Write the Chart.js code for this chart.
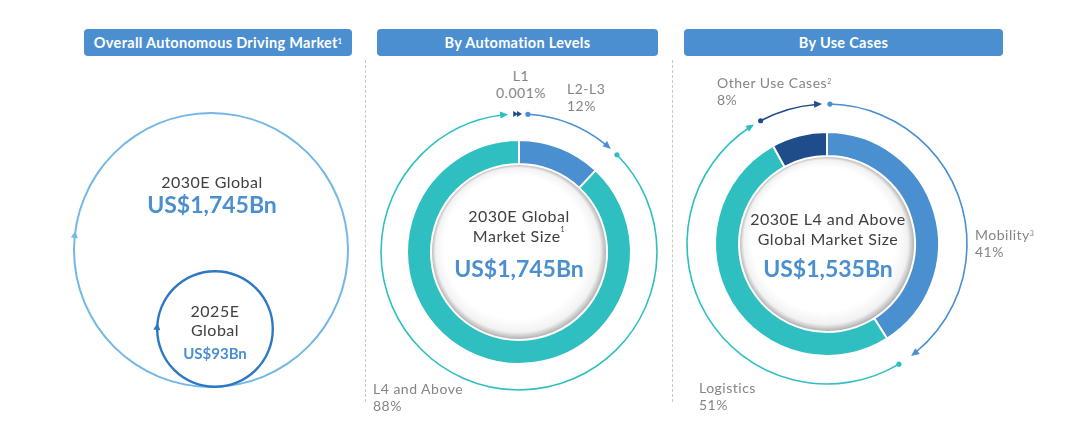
<!DOCTYPE html>
<html>
<head>
<meta charset="utf-8">
<script src="https://cdn.jsdelivr.net/npm/chart.js@4.4.0/dist/chart.umd.min.js"></script>
<style>
  body { margin: 0; width: 1080px; height: 434px; background: #fff; position: relative; overflow: hidden; font-family: Lato, 'Noto Sans', sans-serif; }
  .bar { position: absolute; top: 29px; height: 27px; line-height: 27px; background: #4b8fd1; border-radius: 4px; color: #fff; font-weight: bold; font-size: 14.5px; letter-spacing: 0.3px; text-align: center; }
  .sep { position: absolute; top: 60px; height: 342px; border-left: 1px dashed #c8c8c8; }
  .c { position: absolute; transform: translate(-50%, -50%); white-space: nowrap; text-align: center; }
  .l { position: absolute; transform: translateY(-50%); white-space: nowrap; }
  .lbl { font-size: 14px; letter-spacing: 0.5px; color: #858585; line-height: 17px; }
  .dark { font-size: 16px; letter-spacing: 0.5px; color: #404040; }
  .val { font-weight: bold; color: #4a8fd0; }
  sup { font-size: 7px; vertical-align: top; position: relative; top: -1px; }
  canvas { position: absolute; }
</style>
</head>
<body>
<div class="bar" style="left:84px;width:268px">Overall Autonomous Driving Market<sup>1</sup></div>
<div class="bar" style="left:377px;width:281px">By Automation Levels</div>
<div class="bar" style="left:684px;width:319px">By Use Cases</div>
<div class="sep" style="left:365px"></div>
<div class="sep" style="left:672px"></div>

<canvas id="big" width="290" height="290" style="left:66px;top:105px"></canvas>
<canvas id="small" width="130" height="130" style="left:150px;top:264px"></canvas>
<canvas id="levels" width="300" height="300" style="left:369px;top:102px"></canvas>
<canvas id="uses" width="300" height="300" style="left:677px;top:94px"></canvas>

<div class="c dark" style="left:212px;top:181px">2030E Global</div>
<div class="c val" style="left:212px;top:204px;font-size:23px">US$1,745Bn</div>
<div class="c dark" style="left:215px;top:310px">2025E</div>
<div class="c dark" style="left:215px;top:329px">Global</div>
<div class="c val" style="left:215px;top:353px;font-size:15px">US$93Bn</div>

<div class="c dark" style="left:519px;top:215px">2030E Global</div>
<div class="c dark" style="left:519px;top:235px">Market Size<sup>1</sup></div>
<div class="c val" style="left:519px;top:268px;font-size:23px">US$1,745Bn</div>

<div class="c dark" style="left:828px;top:218px">2030E L4 and Above</div>
<div class="c dark" style="left:828px;top:238px">Global Market Size</div>
<div class="c val" style="left:828px;top:268px;font-size:23px">US$1,535Bn</div>

<div class="c lbl" style="left:521px;top:84px">L1<br>0.001%</div>
<div class="l lbl" style="left:567px;top:97px">L2-L3<br>12%</div>
<div class="l lbl" style="left:373px;top:397px">L4 and Above<br>88%</div>

<div class="l lbl" style="left:717px;top:91px">Other Use Cases<sup>2</sup><br>8%</div>
<div class="l lbl" style="left:975px;top:243px">Mobility<sup>3</sup><br>41%</div>
<div class="l lbl" style="left:699px;top:396px">Logistics<br>51%</div>

<script>
const marketYears = ['2030E', '2025E'];
const marketSizes = [1745, 93];

const levelLabels = ['L1', 'L2-L3', 'L4 and Above'];
const levelShares = [0.001, 12, 88];

const useCaseLabels = ['Mobility', 'Logistics', 'Other Use Cases'];
const useCaseShares = [41, 51, 8];

const TEAL = '#30bfc0';
const BLUE = '#4a8fd0';
const NAVY = '#1f4c8a';

const rad = d => d * Math.PI / 180;

function drawHead(ctx, cx, cy, r, a, len, w) {
  const tx = cx + r * Math.cos(a), ty = cy + r * Math.sin(a);
  const dx = -Math.sin(a), dy = Math.cos(a);   // clockwise tangent
  const nx = Math.cos(a), ny = Math.sin(a);
  const bx = tx - len * dx, by = ty - len * dy;
  ctx.beginPath();
  ctx.moveTo(tx, ty);
  ctx.lineTo(bx + w * nx, by + w * ny);
  ctx.lineTo(bx - w * nx, by - w * ny);
  ctx.closePath();
  ctx.fill();
}

// thin outer ring with dots and arrowheads, taken from the arc elements
const ringArrows = {
  id: 'ringArrows',
  afterDatasetsDraw(chart) {
    const ctx = chart.ctx;
    chart.data.datasets.forEach((ds, di) => {
      const arcs = chart.getDatasetMeta(di).data;
      if (ds.headAt !== undefined) {
        const a = arcs[0];
        const r = (a.innerRadius + a.outerRadius) / 2;
        ctx.save();
        ctx.fillStyle = ds.backgroundColor;
        drawHead(ctx, a.x, a.y, r, rad(ds.headAt - 90), 7, 3.5);
        ctx.restore();
      }
      if (!ds.arrowColors) return;
      arcs.forEach((arc, i) => {
        const { x, y, startAngle, endAngle, innerRadius, outerRadius } = arc;
        const r = (innerRadius + outerRadius) / 2;
        const col = ds.arrowColors[i];
        ctx.save();
        ctx.strokeStyle = col;
        ctx.fillStyle = col;
        ctx.lineWidth = 1.6;
        if (endAngle - startAngle < 0.01) {
          drawHead(ctx, x, y, r, startAngle - 0.006, 5, 3);
          drawHead(ctx, x, y, r, startAngle + 0.022, 5, 3);
        } else {
          const a0 = startAngle + rad(ds.gapStart[i]);
          const a1 = endAngle - rad(ds.gapEnd[i]);
          ctx.beginPath();
          ctx.arc(x, y, r, a0, a1 - 6 / r);
          ctx.stroke();
          ctx.beginPath();
          ctx.arc(x + r * Math.cos(a0), y + r * Math.sin(a0), 2.6, 0, Math.PI * 2);
          ctx.fill();
          drawHead(ctx, x, y, r, a1, 8, 3.5);
        }
        ctx.restore();
      });
    });
  }
};

// soft shadow inside the thick ring
const innerShadow = {
  id: 'innerShadow',
  beforeDatasetsDraw(chart) {
    const di = chart.data.datasets.findIndex(d => d.shadow);
    if (di < 0) return;
    const arc = chart.getDatasetMeta(di).data[0];
    const { x, y, innerRadius } = arc;
    const ctx = chart.ctx;
    const g = ctx.createRadialGradient(x - 3, y - 5, innerRadius - 16, x, y, innerRadius + 1);
    g.addColorStop(0, 'rgba(0,0,0,0)');
    g.addColorStop(0.6, 'rgba(0,0,0,0.05)');
    g.addColorStop(1, 'rgba(0,0,0,0.38)');
    ctx.save();
    ctx.beginPath();
    ctx.arc(x, y, innerRadius + 1, 0, Math.PI * 2);
    ctx.fillStyle = g;
    ctx.fill();
    ctx.restore();
  }
};

const baseOpts = {
  responsive: false,
  animation: false,
  events: [],
  layout: { padding: 0 },
  plugins: { legend: { display: false }, tooltip: { enabled: false } }
};

function circleChart(id, label, value, color, radius, width, headAt) {
  new Chart(document.getElementById(id), {
    type: 'doughnut',
    data: {
      labels: [label],
      datasets: [{ data: [value], backgroundColor: color, borderWidth: 0, headAt: headAt }]
    },
    options: { ...baseOpts, radius: radius, cutout: ((radius - width) / radius * 100) + '%' },
    plugins: [ringArrows]
  });
}

circleChart('big', marketYears[0], marketSizes[0], '#74b8e6', 138, 2, 278);
circleChart('small', marketYears[1], marketSizes[1], '#2e77c2', 59, 2.4, 276);

function donutChart(id, labels, values, colors, gapStart, gapEnd, radius, gap) {
  new Chart(document.getElementById(id), {
    type: 'doughnut',
    data: {
      labels: labels,
      datasets: [
        { data: values, backgroundColor: 'transparent', borderWidth: 0, weight: 2,
          arrowColors: colors, gapStart: gapStart, gapEnd: gapEnd },
        { data: values, backgroundColor: 'transparent', borderWidth: 0, weight: gap },
        { data: values, backgroundColor: colors, borderColor: '#fff', borderWidth: 2, weight: 24, shadow: true }
      ]
    },
    options: { ...baseOpts, radius: radius, cutout: (88 / radius * 100) + '%' },
    plugins: [innerShadow, ringArrows]
  });
}

donutChart('levels', levelLabels, levelShares, [NAVY, BLUE, TEAL], [0, 3.7, 2], [0, 1.5, 4.5], 139, 25);
donutChart('uses', useCaseLabels, useCaseShares, [BLUE, TEAL, NAVY], [1.2, 1.5, 0.5], [4.5, 2.6, 2], 141, 27);
</script>
</body>
</html>
